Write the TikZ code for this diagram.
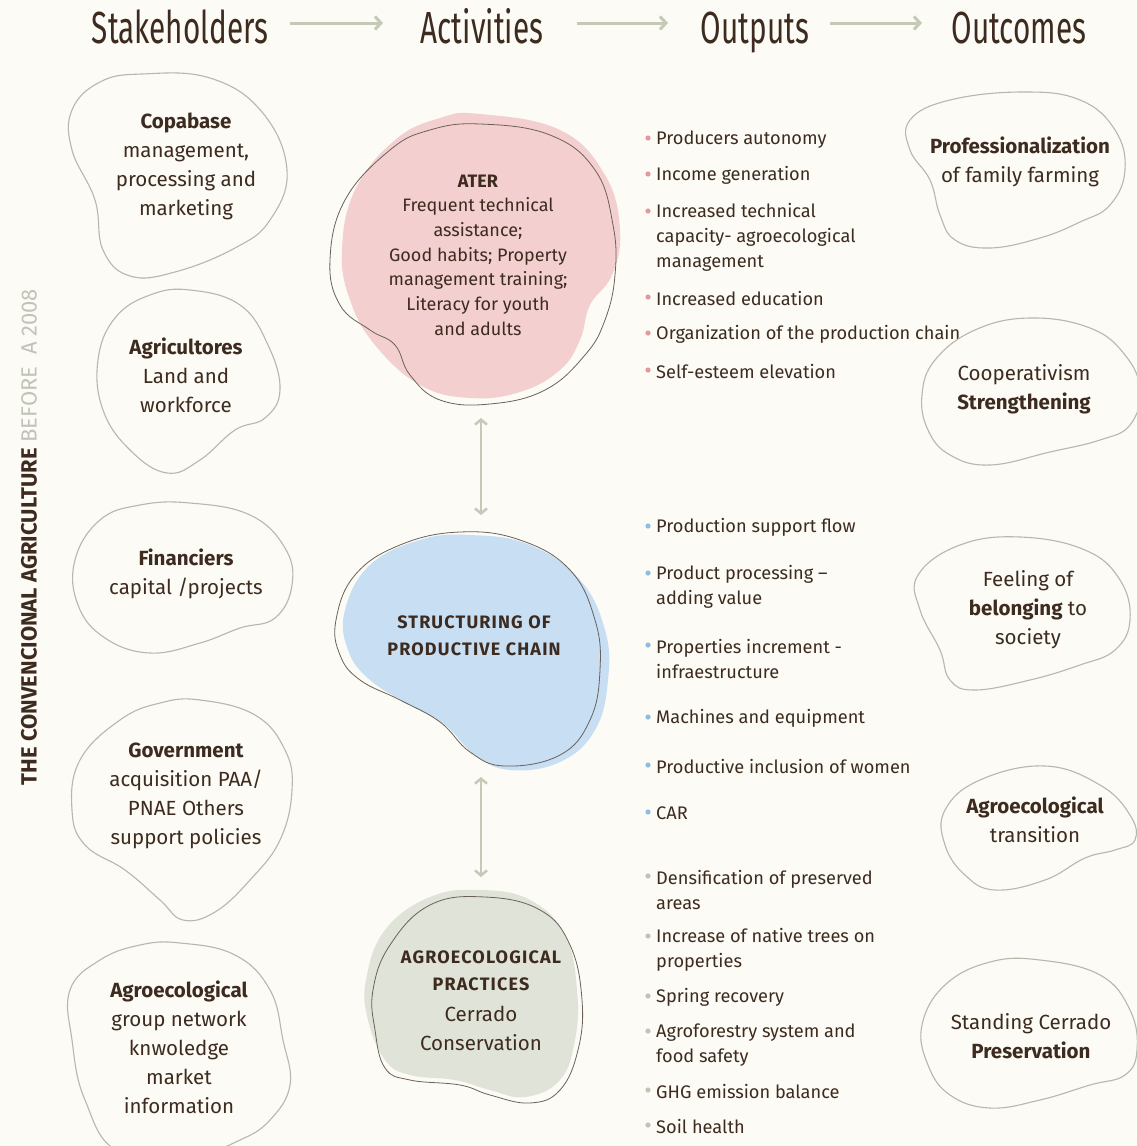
\documentclass[tikz,border=0pt]{standalone}
\usepackage{fontspec}
\setmainfont{Fira Sans}
\usetikzlibrary{arrows.meta}
\definecolor{bg}{HTML}{FCFBF5}
\definecolor{ink}{HTML}{3D2B1F}
\definecolor{sage}{HTML}{C5CAB6}
\definecolor{blobline}{HTML}{B5B8AA}
\definecolor{pinkfill}{HTML}{F4CFCF}
\definecolor{bluefill}{HTML}{C7DEF3}
\definecolor{greenfill}{HTML}{E0E3D7}
\definecolor{pinkdot}{HTML}{E3989E}
\definecolor{bluedot}{HTML}{8DBDE4}
\definecolor{greendot}{HTML}{C0C5B2}
\definecolor{faded}{HTML}{C0C4B8}
\definecolor{actline}{HTML}{6A615B}
\tikzset{
  blob/.style={draw=blobline, line width=1.1pt},
  actblob/.style={draw=actline, line width=0.8pt},
  header/.style={font=\fontsize{45}{45}\selectfont, text=ink, anchor=base, inner sep=0pt},
  stake/.style={font=\fontsize{20.5}{29}\selectfont, text=ink, align=center, inner sep=0pt, yshift=-2pt},
  acttext/.style={font=\fontsize{18}{24.7}\selectfont, text=ink, align=center, inner sep=0pt, yshift=-1pt},
  capstext/.style={font=\fontsize{18}{27}\selectfont\bfseries\addfontfeatures{LetterSpace=6.5}, text=ink, align=center, inner sep=0pt, yshift=-1pt},
  outp/.style={font=\fontsize{18.2}{25}\selectfont, text=ink, align=left, anchor=west, inner sep=0pt, yshift=-1.5pt},
  flowarrow/.style={draw=sage, line width=3pt, -{Straight Barb[length=6pt,width=13pt]}},
  dblarrow/.style={draw=sage, line width=2.5pt, {Straight Barb[length=5pt,width=12pt]}-{Straight Barb[length=5pt,width=12pt]}},
}
\begin{document}
\begin{tikzpicture}[x=1pt,y=-1pt]
\fill[bg] (0,0) rectangle (1137,1146);
\useasboundingbox (0,0) rectangle (1137,1146);

% headers
\node[header] (h1) at (180,43) {\scalebox{0.66}[1]{Stakeholders}};
\node[header] (h2) at (482,43) {\scalebox{0.66}[1]{Activities}};
\node[header] (h3) at (755,43) {\scalebox{0.66}[1]{Outputs}};
\node[header] (h4) at (1019,43) {\scalebox{0.66}[1]{Outcomes}};
\coordinate (a1s) at (290,23); \coordinate (a1e) at (383,23);
\coordinate (a2s) at (577,23); \coordinate (a2e) at (668,23);
\coordinate (a3s) at (830,23); \coordinate (a3e) at (922,23);
\draw[flowarrow] (a1s) -- (a1e);
\draw[flowarrow] (a2s) -- (a2e);
\draw[flowarrow] (a3s) -- (a3e);

% vertical title
\node[rotate=90, inner sep=0pt, font=\fontsize{22}{22}\selectfont] (vt) at (29,537)
  {\textcolor{ink}{\bfseries THE CONVENCIONAL AGRICULTURE}\ \textcolor{faded}{BEFORE\ \ A 2008}};

% stakeholder blobs
\draw[blob] plot[smooth cycle, tension=0.7] coordinates {(142,74)(210,78)(262,112)(287,170)(270,220)(235,248)(175,272)(130,276)(103,250)(95,200)(72,150)(72,110)(100,82)};
\draw[blob] plot[smooth cycle, tension=0.7] coordinates {(190,290)(240,305)(268,345)(280,390)(265,418)(235,430)(200,460)(167,473)(130,450)(103,410)(98,360)(115,318)(150,295)};
\draw[blob] plot[smooth cycle, tension=0.7] coordinates {(190,503)(250,515)(285,548)(292,585)(275,618)(240,628)(200,643)(150,653)(105,638)(78,605)(75,560)(100,520)(140,505)};
\draw[blob] plot[smooth cycle, tension=0.7] coordinates {(200,700)(255,715)(285,750)(292,790)(280,840)(250,880)(215,912)(183,920)(160,900)(125,870)(85,845)(72,810)(80,760)(120,720)(160,703)};
\draw[blob] plot[smooth cycle, tension=0.7] coordinates {(180,943)(235,955)(270,990)(283,1040)(290,1085)(270,1120)(240,1140)(200,1152)(120,1152)(85,1100)(72,1040)(70,990)(100,960)(140,945)};

\node[stake] (s1) at (186,164.5) {\textbf{Copabase}\\management,\\processing and\\marketing};
\node[stake] (s2) at (186,373) {\textbf{Agricultores}\\Land and\\workforce};
\node[stake] (s3) at (186,571.5) {\textbf{Financiers}\\capital /projects};
\node[stake] (s4) at (186,793.5) {\textbf{Government}\\acquisition PAA/\\PNAE Others\\support policies};
\node[stake] (s5) at (179,1045) {\textbf{Agroecological}\\group network\\knwoledge\\market\\information};

% activity blobs
\fill[pinkfill] plot[smooth cycle, tension=0.7] coordinates {(480,114)(560,130)(605,175)(620,230)(612,275)(590,305)(580,340)(560,370)(520,392)(470,398)(420,385)(375,345)(350,300)(342,250)(355,190)(395,140)(440,118)};
\draw[actblob] plot[smooth cycle, tension=0.7] coordinates {(480,124)(550,135)(595,170)(613,225)(615,275)(605,320)(585,355)(545,390)(490,404)(440,400)(410,375)(395,345)(370,330)(340,305)(330,260)(345,200)(390,150)(430,130)};

\fill[bluefill] plot[smooth cycle, tension=0.7] coordinates {(470,535)(530,545)(580,580)(605,630)(608,680)(595,730)(560,762)(510,770)(475,755)(445,725)(410,705)(370,680)(348,650)(345,610)(370,565)(420,540)};
\draw[actblob] plot[smooth cycle, tension=0.7] coordinates {(460,532)(520,540)(570,570)(595,620)(600,670)(590,720)(560,755)(505,766)(470,752)(440,722)(400,700)(360,680)(340,655)(336,620)(355,575)(400,545)};

\fill[greenfill] plot[smooth cycle, tension=0.7] coordinates {(480,890)(530,900)(565,935)(577,990)(575,1040)(560,1080)(525,1097)(490,1090)(455,1080)(410,1075)(385,1060)(368,1020)(366,980)(385,930)(430,897)};
\draw[actblob] plot[smooth cycle, tension=0.7] coordinates {(485,897)(540,910)(570,945)(582,1000)(578,1050)(560,1090)(530,1103)(490,1095)(460,1085)(410,1080)(385,1068)(375,1030)(373,990)(390,945)(430,905)};

\node[acttext] (t1) at (478,254) {\textbf{ATER}\\Frequent technical\\assistance;\\Good habits; Property\\management training;\\Literacy for youth\\and adults};
\node[capstext] (t2) at (474,634.5) {STRUCTURING OF\\PRODUCTIVE CHAIN};
\node[capstext] (t3a) at (481,969.5) {AGROECOLOGICAL\\PRACTICES};
\node[stake] (t3b) at (481,1026.5) {Cerrado\\Conservation};

\coordinate (c1a) at (481,418); \coordinate (c1b) at (481,515);
\coordinate (c2a) at (481,777); \coordinate (c2b) at (481,877);
\draw[dblarrow] (c1a) -- (c1b);
\draw[dblarrow] (c2a) -- (c2b);

% outputs
\foreach \y in {138,174,211,297,333,370} \fill[pinkdot] (648,\y) circle (2.6);
\foreach \y in {526,573,645,717,765,812} \fill[bluedot] (648,\y) circle (2.6);
\foreach \y in {876,936,996,1031,1090,1125} \fill[greendot] (648,\y) circle (2.6);

\node[outp] (o1) at (656,138) {Producers autonomy};
\node[outp] (o2) at (656,174) {Income generation};
\node[outp] (o3) at (656,236) {Increased technical\\capacity- agroecological\\management};
\node[outp] (o4) at (656,297) {Increased education};
\node[outp] (o5) at (656,333) {Organization of the production chain};
\node[outp] (o6) at (656,370) {Self-esteem elevation};

\node[outp] (o7) at (656,526) {Production support flow};
\node[outp] (o8) at (656,585.5) {Product processing --\\adding value};
\node[outp] (o9) at (656,657.5) {Properties increment -\\infraestructure};
\node[outp] (o10) at (656,717) {Machines and equipment};
\node[outp] (o11) at (656,765) {Productive inclusion of women};
\node[outp] (o12) at (656,812) {CAR};

\node[outp] (o13) at (656,888.5) {Densification of preserved\\areas};
\node[outp] (o14) at (656,948.5) {Increase of native trees on\\properties};
\node[outp] (o15) at (656,996) {Spring recovery};
\node[outp] (o16) at (656,1043.5) {Agroforestry system and\\food safety};
\node[outp] (o17) at (656,1090) {GHG emission balance};
\node[outp] (o18) at (656,1125) {Soil health};

% outcome blobs
\draw[blob] plot[smooth cycle, tension=0.7] coordinates {(1023,92)(1080,100)(1115,130)(1125,170)(1110,205)(1080,222)(1040,238)(990,248)(955,240)(940,215)(930,180)(910,150)(910,120)(950,100)};
\draw[blob] plot[smooth cycle, tension=0.7] coordinates {(1030,318)(1090,328)(1125,355)(1140,390)(1130,425)(1100,440)(1050,452)(990,465)(950,455)(928,430)(922,395)(935,360)(975,330)};
\draw[blob] plot[smooth cycle, tension=0.7] coordinates {(1020,537)(1085,550)(1120,580)(1130,620)(1115,650)(1080,665)(1030,680)(975,690)(950,680)(940,650)(920,610)(918,575)(960,545)};
\draw[blob] plot[smooth cycle, tension=0.7] coordinates {(1045,766)(1100,785)(1130,815)(1135,840)(1115,850)(1085,858)(1045,880)(995,890)(965,875)(945,845)(945,810)(980,780)};
\draw[blob] plot[smooth cycle, tension=0.7] coordinates {(1040,960)(1100,975)(1130,1010)(1137,1050)(1125,1075)(1090,1085)(1040,1100)(990,1108)(950,1095)(928,1065)(922,1025)(945,985)(990,962)};

\node[stake] (r1) at (1020,160) {\textbf{Professionalization}\\of family farming};
\node[stake] (r2) at (1024,387.5) {Cooperativism\\\textbf{Strengthening}};
\node[stake] (r3) at (1028,607.5) {Feeling of\\\textbf{belonging} to\\society};
\node[stake] (r4) at (1035,817.5) {\textbf{Agroecological}\\transition};
\node[stake] (r5) at (1031,1034.5) {Standing Cerrado\\\textbf{Preservation}};
\end{tikzpicture}
\end{document}
